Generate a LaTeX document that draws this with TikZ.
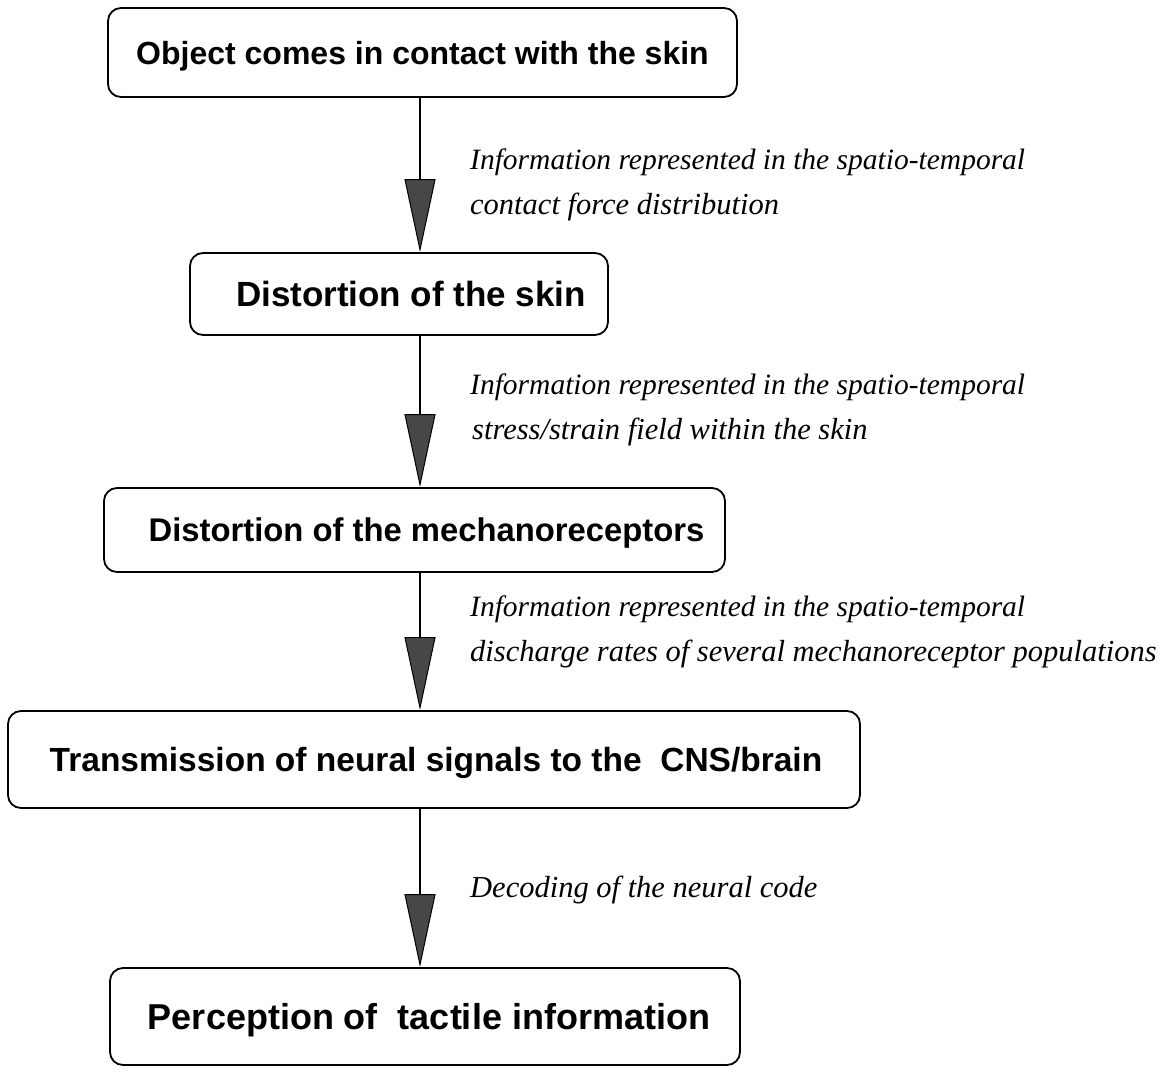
\documentclass[tikz,border=0pt]{standalone}
\usepackage{fontspec}
\setmainfont{Liberation Serif}
\newfontfamily\boxfont{Liberation Sans}
\usetikzlibrary{arrows.meta}
\newcommand{\bfs}[1]{\boxfont\bfseries\fontsize{#1}{#1}\selectfont}
\begin{document}
\begin{tikzpicture}[x=1pt,y=-1pt,
  stepbox/.style={draw=black,line width=1.8pt,rounded corners=13pt,inner sep=0pt,
    text depth=0pt},
  info/.style={anchor=base west,inner sep=0pt,font=\itshape\fontsize{30.5}{36}\selectfont},
  infoA/.style={info,font=\itshape\fontsize{29.5}{36}\selectfont},
  flow/.style={line width=2.4pt,-{Triangle[length=73pt,width=31pt,line width=1pt,fill=black!72]}}
]
\useasboundingbox (0,0) rectangle (1167,1071);
\coordinate (ax) at (420,0);

\node[stepbox,font=\bfs{32},text height=23pt,minimum width=629pt,minimum height=89pt] (b1) at (422.5,52.5)
  {Object comes in contact with the skin};
\node[stepbox,font=\bfs{35},text height=25pt,minimum width=418pt,minimum height=82pt] (b2) at (399,294)
  {\hspace*{24pt}Distortion of the skin};
\node[stepbox,font=\bfs{32.8},text height=23.5pt,minimum width=621pt,minimum height=84pt] (b3) at (414.5,530)
  {\hspace*{24pt}Distortion of the mechanoreceptors};
\node[stepbox,font=\bfs{33.5},text height=24pt,minimum width=852pt,minimum height=97pt] (b4) at (434,759.5)
  {\hspace*{4pt}Transmission of neural signals to the\ \ CNS/brain};
\node[stepbox,font=\bfs{36},text height=25.8pt,minimum width=630pt,minimum height=97pt] (b5) at (425,1016.5)
  {\hspace*{8pt}Perception of\ \ tactile information};

\draw[flow] (b1.south -| ax) -- (b2.north -| ax);
\draw[flow] (b2.south -| ax) -- (b3.north -| ax);
\draw[flow] (b3.south -| ax) -- (b4.north -| ax);
\draw[flow] (b4.south -| ax) -- (b5.north -| ax);

\node[infoA] (t1a) at (470,169) {Information represented in the spatio-temporal};
\node[info] (t1b) at (470,214) {contact force distribution};
\node[infoA] (t2a) at (470,394) {Information represented in the spatio-temporal};
\node[info] (t2b) at (472,439) {stress/strain field within the skin};
\node[infoA] (t3a) at (470,616) {Information represented in the spatio-temporal};
\node[info] (t3b) at (470,661) {discharge rates of several mechanoreceptor populations};
\node[info] (t4) at (470,897) {Decoding of the neural code};
\end{tikzpicture}
\end{document}
